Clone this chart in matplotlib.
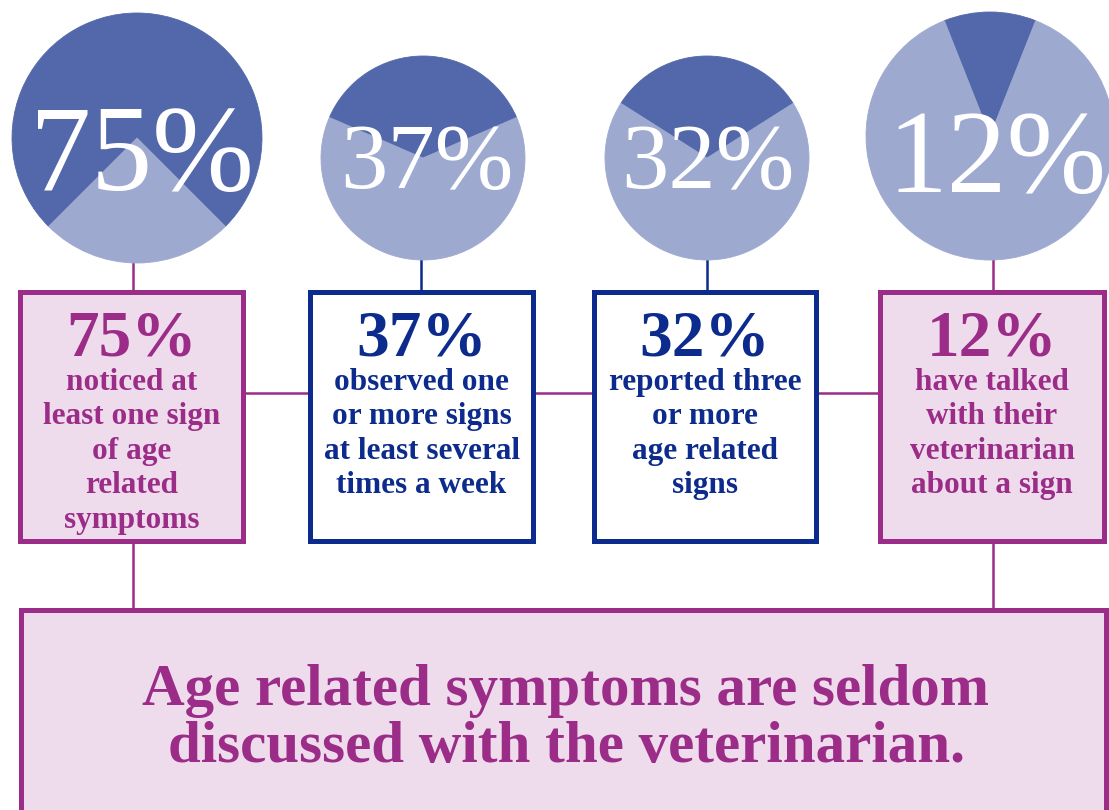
import matplotlib
matplotlib.use("Agg")
import matplotlib.pyplot as plt
from matplotlib.patches import Rectangle

plt.rcParams['font.family'] = ['Liberation Serif', 'DejaVu Serif']

# data
percents = [75, 37, 32, 12]
captions = [
    ["noticed at", "least one sign", "of age", "related", "symptoms"],
    ["observed one", "or more signs", "at least several", "times a week"],
    ["reported three", "or more", "age related", "signs"],
    ["have talked", "with their", "veterinarian", "about a sign"],
]
summary = ["Age related symptoms are seldom", "discussed with the veterinarian."]

# layout (image pixel coords, y downward)
W, H = 1109, 810
pie_centers = [(137, 138), (423, 158), (707, 158), (990, 136)]
pie_radii = [125, 102, 102, 124]
pie_text_pos = [(142, 190), (427, 188), (708, 188), (997, 192)]
pie_text_size = [88, 68, 68, 86]
box_x = [(20, 243), (310, 533), (594, 816), (880, 1104)]
box_y = (292, 541)
link_x = [133, 421, 707, 993]

dark = '#5368aa'
light = '#9ea9d0'
purple = '#9b2c88'
navy = '#0c2b8c'
pink = '#eedcec'
box_edge = [purple, navy, navy, purple]
box_face = [pink, 'white', 'white', pink]


def Y(y):
    return H - y


fig = plt.figure(figsize=(W / 100, H / 100), dpi=100)
ax = fig.add_axes([0, 0, 1, 1])

for i, p in enumerate(percents):
    cx, cy = pie_centers[i]
    ax.pie([p, 100 - p], colors=[dark, light], startangle=90 - p * 1.8,
           radius=pie_radii[i], center=(cx, Y(cy)), frame=False,
           wedgeprops=dict(linewidth=0.6, edgecolor='none'))
    for w, c in zip(ax.patches[-2:], [dark, light]):
        w.set_edgecolor(c)
        w.set_zorder(3)
    tx, ty = pie_text_pos[i]
    ax.text(tx, Y(ty), f"{p}%", color='white', fontsize=pie_text_size[i],
            ha='center', va='baseline', zorder=4)

    # connector pie -> box
    ax.plot([link_x[i], link_x[i]], [Y(200), Y(box_y[0])], color=box_edge[i],
            lw=1.8, zorder=1)

    x0, x1 = box_x[i]
    ax.add_patch(Rectangle((x0, Y(box_y[1])), x1 - x0, box_y[1] - box_y[0],
                           facecolor=box_face[i], edgecolor=box_edge[i],
                           lw=3.6, zorder=2))
    xc = (x0 + x1) / 2
    ax.text(xc, Y(355), f"{p}%", color=box_edge[i], fontsize=47,
            fontweight='bold', ha='center', va='baseline', zorder=4)
    for j, line in enumerate(captions[i]):
        ax.text(xc, Y(390 + j * 34.4), line, color=box_edge[i], fontsize=22.5,
                fontweight='bold', ha='center', va='baseline', zorder=4)

# horizontal link between boxes
ax.plot([box_x[0][1], box_x[3][0]], [Y(393), Y(393)], color=purple, lw=1.8, zorder=1)

# links down to the summary box
for k in (0, 3):
    ax.plot([link_x[k], link_x[k]], [Y(box_y[1]), Y(612)], color=purple, lw=1.8, zorder=1)

ax.add_patch(Rectangle((21, Y(840)), 1106 - 21, 840 - 610, facecolor=pink,
                       edgecolor=purple, lw=3.6, zorder=2))
for j, line in enumerate(summary):
    ax.text(566, Y(705 + j * 57), line, color=purple, fontsize=42.5,
            fontweight='bold', ha='center', va='baseline', zorder=4)

ax.set_xlim(0, W)
ax.set_ylim(0, H)
ax.set_aspect('equal')
ax.axis('off')

fig.savefig('out.png', dpi=100, facecolor='white')
